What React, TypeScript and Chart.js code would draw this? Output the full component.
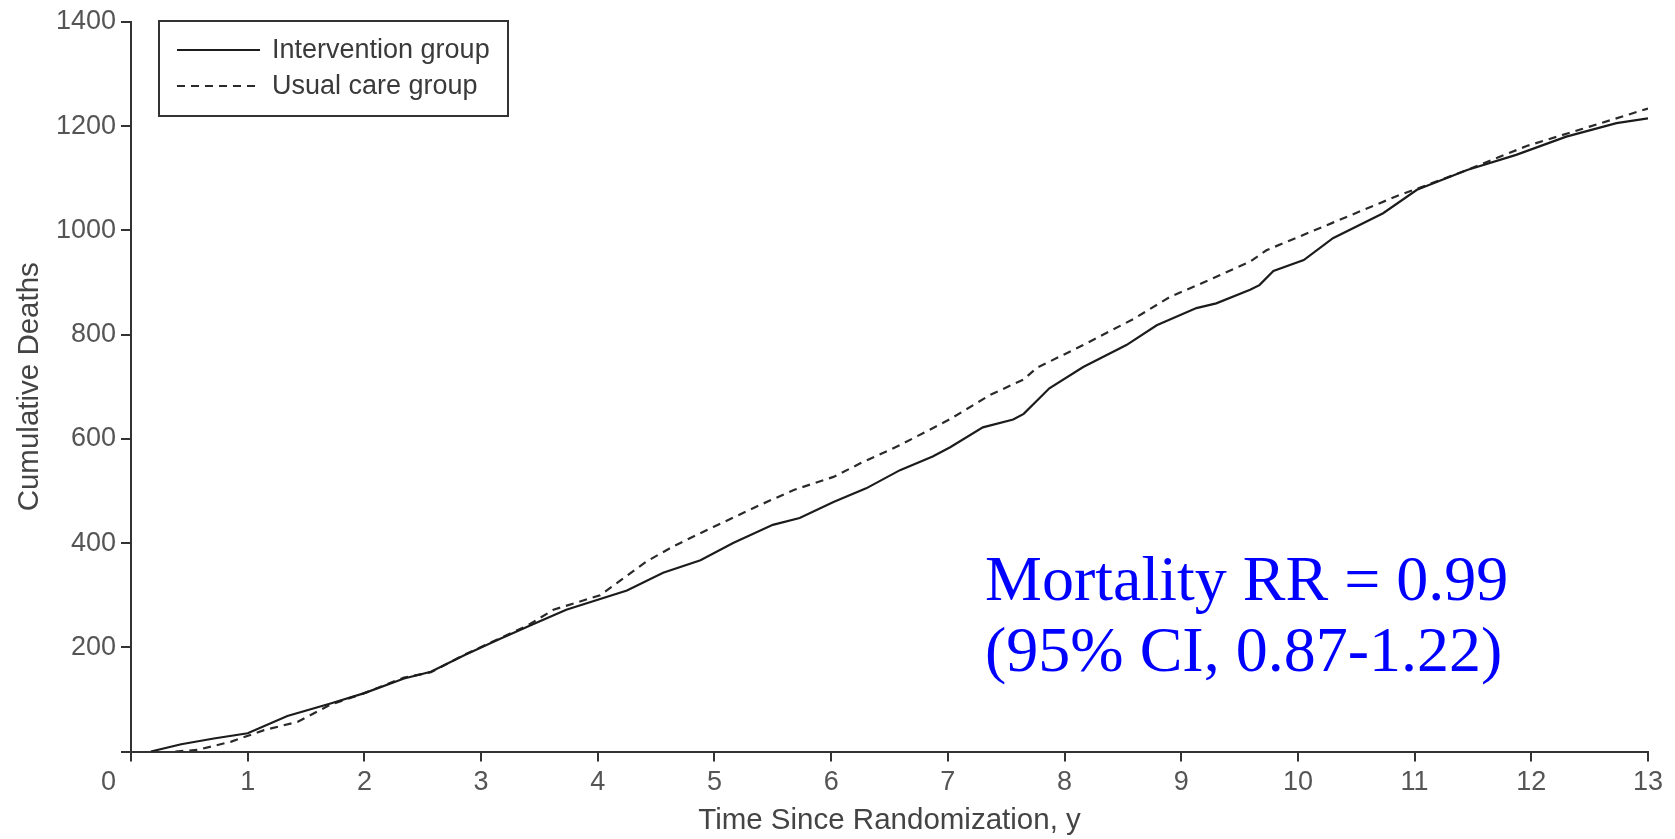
import React, { useEffect, useRef } from 'react';
import { Chart, registerables } from 'chart.js';

Chart.register(...registerables);

// Years since randomization and cumulative deaths
const interventionYears = [
  0.17, 0.43, 0.71, 1.0, 1.34, 1.71, 2.0, 2.34, 2.57, 2.86, 3.14, 3.43, 3.73, 4.25, 4.56, 4.88,
  5.16, 5.5, 5.73, 6.02, 6.3, 6.59, 6.87, 7.02, 7.3, 7.56, 7.65, 7.87, 8.16, 8.53, 8.79, 9.13,
  9.3, 9.59, 9.67, 9.79, 10.05, 10.3, 10.73, 11.02, 11.45, 11.87, 12.3, 12.73, 13.0,
];
const interventionDeaths = [
  0, 14, 25, 35, 68, 92, 112, 140, 153, 185, 214, 243, 272, 309, 343, 367,
  400, 435, 448, 479, 505, 540, 566, 584, 622, 637, 648, 697, 738, 780, 818, 851,
  860, 886, 895, 922, 943, 985, 1033, 1078, 1116, 1145, 1180, 1206, 1215,
];

const usualCareYears = [
  0.38, 0.57, 0.86, 1.14, 1.43, 1.71, 2.0, 2.34, 2.57, 2.86, 3.14, 3.4, 3.62, 4.02, 4.42, 4.65,
  4.99, 5.39, 5.68, 6.02, 6.25, 6.59, 7.02, 7.36, 7.65, 7.76, 8.16, 8.59, 8.9, 9.19, 9.59, 9.73,
  10.3, 10.87, 11.02, 11.45, 11.96, 12.44, 13.0,
];
const usualCareDeaths = [
  0, 3, 19, 41, 57, 90, 112, 142, 152, 186, 215, 242, 272, 300, 365, 394,
  431, 473, 502, 527, 553, 588, 638, 684, 714, 736, 780, 830, 872, 900, 940, 962,
  1015, 1068, 1080, 1116, 1162, 1195, 1234,
];

const seriesLabels = ['Intervention group', 'Usual care group'];
const annotationLines = ['Mortality RR = 0.99', '(95% CI, 0.87-1.22)'];
const xTitle = 'Time Since Randomization, y';
const yTitle = 'Cumulative Deaths';

const SANS = '"Liberation Sans", Arial, Helvetica, sans-serif';
const SERIF = '"Liberation Serif", "Times New Roman", serif';

const overlayPlugin = {
  id: 'overlay',
  afterDraw(chart: any) {
    const { ctx, chartArea } = chart;
    const left = chartArea.left;
    const top = chartArea.top;
    ctx.save();
    // legend box
    const bx = left + 28;
    const by = top - 1;
    ctx.strokeStyle = '#333';
    ctx.lineWidth = 2;
    ctx.setLineDash([]);
    ctx.strokeRect(bx, by, 349, 95);
    ctx.font = `27px ${SANS}`;
    ctx.textBaseline = 'middle';
    ctx.textAlign = 'left';
    chart.data.datasets.forEach((ds: any, i: number) => {
      const y = by + 29 + i * 36;
      ctx.beginPath();
      ctx.strokeStyle = ds.borderColor;
      ctx.lineWidth = 2;
      ctx.setLineDash(ds.borderDash || []);
      ctx.moveTo(bx + 18, y);
      ctx.lineTo(bx + 101, y);
      ctx.stroke();
      ctx.setLineDash([]);
      ctx.fillStyle = '#3a3a3a';
      ctx.fillText(ds.label, bx + 113, y + 1);
    });
    // annotation
    ctx.fillStyle = '#0000ff';
    ctx.font = `64px ${SERIF}`;
    ctx.textBaseline = 'alphabetic';
    ctx.fillText(annotationLines[0], 985, 600);
    ctx.fillText(annotationLines[1], 985, 671);
    ctx.restore();
  },
};

export default function App() {
  const ref = useRef<HTMLCanvasElement>(null);
  useEffect(() => {
    document.body.style.margin = '0';
    const canvas = ref.current!;
    const axisColor = '#333';
    const chart = new Chart(canvas, {
      type: 'line',
      data: {
        datasets: [
          {
            label: seriesLabels[0],
            data: interventionYears.map((t, i) => ({ x: t, y: interventionDeaths[i] })),
            borderColor: '#1c1c1c',
            borderWidth: 2.2,
            borderDash: [],
            pointRadius: 0,
            tension: 0,
            fill: false,
          },
          {
            label: seriesLabels[1],
            data: usualCareYears.map((t, i) => ({ x: t, y: usualCareDeaths[i] })),
            borderColor: '#2a2a2a',
            borderWidth: 2.2,
            borderDash: [8, 6],
            pointRadius: 0,
            tension: 0,
            fill: false,
          },
        ],
      },
      options: {
        responsive: false,
        animation: false,
        layout: { padding: { left: 0, top: 22, right: 27, bottom: 0 } },
        plugins: { legend: { display: false }, tooltip: { enabled: false } },
        scales: {
          x: {
            type: 'linear',
            min: 0,
            max: 13,
            ticks: {
              stepSize: 1,
              autoSkip: false,
              maxRotation: 0,
              color: '#555',
              font: { family: SANS, size: 27 },
              padding: 5,
              callback: (v: any) => (v === 0 ? '0\u2007\u2007\u2007' : String(v)),
            },
            grid: { drawOnChartArea: false, drawTicks: true, tickLength: 10, color: axisColor, lineWidth: 2 },
            border: { display: true, color: axisColor, width: 2 },
            title: {
              display: true,
              text: xTitle,
              color: '#444',
              font: { family: SANS, size: 29.5 },
              padding: { top: 0, bottom: 0 },
            },
            afterFit: (s: any) => {
              s.height = 87.5;
            },
          },
          y: {
            type: 'linear',
            min: 0,
            max: 1400,
            ticks: {
              stepSize: 200,
              color: '#555',
              font: { family: SANS, size: 27 },
              padding: 5,
              callback: (v: any) => (v === 0 ? '' : String(v)),
            },
            grid: { drawOnChartArea: false, drawTicks: true, tickLength: 10, color: axisColor, lineWidth: 2 },
            border: { display: true, color: axisColor, width: 2 },
            title: {
              display: true,
              text: yTitle,
              color: '#444',
              font: { family: SANS, size: 29.5 },
              padding: { top: 12, bottom: 0 },
            },
            afterFit: (s: any) => {
              s.width = 131;
            },
          },
        },
      },
      plugins: [overlayPlugin],
    } as any);
    return () => chart.destroy();
  }, []);
  return (
    <div style={{ width: 1675, height: 839 }}>
      <canvas ref={ref} width={1675} height={839} style={{ display: 'block' }} />
    </div>
  );
}
